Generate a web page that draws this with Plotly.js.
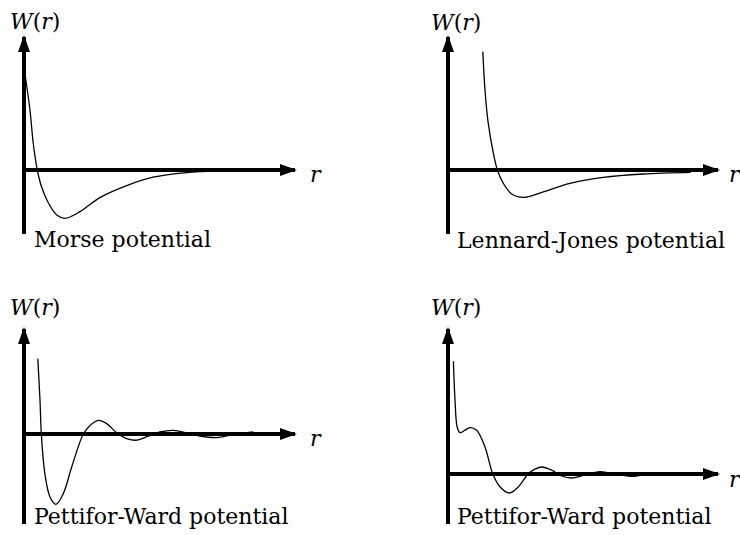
<!DOCTYPE html>
<html>
<head>
<meta charset="utf-8">
<script src="https://cdn.plot.ly/plotly-3.0.1.min.js"></script>
<style>html,body{margin:0;padding:0;background:#fff;} #chart{width:740px;height:535px;}</style>
</head>
<body>
<div id="chart"></div>
<script>
// ---- data (r and W in arbitrary units) ----
const morseR = [0.04, 0.22, 0.34, 0.49, 0.65, 0.90, 1.21, 1.51, 2.07, 2.80, 3.79, 4.76, 6.00, 7.23, 8.59];
const morseW = [4.75, 3.00, 1.35, 0.00, -0.85, -1.65, -2.25, -2.42, -2.08, -1.38, -0.78, -0.36, -0.13, -0.04, -0.01];

const ljR = [1.29, 1.37, 1.49, 1.68, 1.83, 2.05, 2.36, 2.79, 3.53, 4.52, 5.75, 7.23, 8.99];
const ljW = [5.92, 4.00, 2.34, 0.84, 0.00, -0.67, -1.20, -1.37, -1.09, -0.67, -0.37, -0.20, -0.12];

const pw1R = [0.51, 0.59, 0.64, 0.77, 0.96, 1.18, 1.45, 1.76, 2.19, 2.44, 2.74, 3.05, 3.42, 3.79, 4.16, 4.59, 5.02, 5.51, 6.00, 6.49, 7.11, 7.72, 8.46];
const pw1W = [3.77, 1.70, 0.00, -1.98, -3.15, -3.52, -2.98, -1.65, 0.00, 0.43, 0.68, 0.52, 0.06, -0.23, -0.31, -0.11, 0.10, 0.18, 0.06, -0.10, -0.18, -0.03, 0.10];

const pw2R = [0.20, 0.26, 0.34, 0.44, 0.63, 0.81, 1.06, 1.37, 1.66, 1.93, 2.27, 2.60, 2.97, 3.22, 3.47, 3.84, 4.21, 4.58, 5.01, 5.63, 6.25, 6.86, 7.11];
const pw2W = [5.64, 3.69, 2.35, 2.07, 2.19, 2.32, 2.19, 1.35, 0.00, -0.65, -0.95, -0.65, 0.00, 0.24, 0.35, 0.19, -0.10, -0.20, -0.07, 0.12, -0.02, -0.12, -0.07];

const titles = ["Morse potential", "Lennard-Jones potential", "Pettifor-Ward potential", "Pettifor-Ward potential"];
const yLabel = "<i>W</i>(<i>r</i>)";
const xLabel = "<i>r</i>";

// ---- layout geometry (pixels) ----
const PW = 740, PH = 535;
const panels = [
  {r: morseR, w: morseW, ox: 24,  oy: 170, sx: 27.1, sy: 20, xEnd: 10, yTop: 6.65, yBot: -3.2,
   yl: [9, 21], xl: [309, 174], tl: [33, 239]},
  {r: ljR, w: ljW, ox: 448, oy: 170, sx: 27.0, sy: 20, xEnd: 10, yTop: 6.65, yBot: -3.2,
   yl: [430, 22], xl: [728, 174], tl: [456, 240]},
  {r: pw1R, w: pw1W, ox: 24,  oy: 434, sx: 27.1, sy: 20, xEnd: 10, yTop: 5.25, yBot: -4.5,
   yl: [9, 307], xl: [309, 438], tl: [33, 516]},
  {r: pw2R, w: pw2W, ox: 448, oy: 474, sx: 27.0, sy: 20, xEnd: 10, yTop: 7.25, yBot: -2.5,
   yl: [430, 307], xl: [728, 479], tl: [456, 516]}
];

const font = {family: "'DejaVu Serif', 'Liberation Serif', serif", size: 22, color: "#000"};
const traces = [], shapes = [], annotations = [];
const layout = {
  width: PW, height: PH, margin: {l: 0, r: 0, t: 0, b: 0},
  paper_bgcolor: "#fff", plot_bgcolor: "rgba(0,0,0,0)", showlegend: false,
  font: font
};

panels.forEach((p, i) => {
  const n = i + 1;
  const xa = "x" + (n === 1 ? "" : n), ya = "y" + (n === 1 ? "" : n);
  const xmin = -0.7, xmax = p.xEnd + 0.5, ymin = p.yBot - 0.3, ymax = p.yTop + 0.4;
  const axBase = {showgrid: false, zeroline: false, showticklabels: false, ticks: "", showline: false, fixedrange: true};
  layout["xaxis" + (n === 1 ? "" : n)] = Object.assign({}, axBase, {
    range: [xmin, xmax], anchor: ya,
    domain: [(p.ox + xmin * p.sx) / PW, (p.ox + xmax * p.sx) / PW]
  });
  layout["yaxis" + (n === 1 ? "" : n)] = Object.assign({}, axBase, {
    range: [ymin, ymax], anchor: xa,
    domain: [1 - (p.oy - ymin * p.sy) / PH, 1 - (p.oy - ymax * p.sy) / PH]
  });
  traces.push({x: p.r, y: p.w, xaxis: xa, yaxis: ya, type: "scatter", mode: "lines",
    line: {color: "#000", width: 1.3, shape: "spline", smoothing: 1}, hoverinfo: "skip"});
  // axes
  shapes.push({type: "line", xref: xa, yref: ya, x0: 0, x1: p.xEnd, y0: 0, y1: 0,
    line: {color: "#000", width: 4}, layer: "below"});
  shapes.push({type: "line", xref: xa, yref: ya, x0: 0, x1: 0, y0: p.yBot, y1: p.yTop,
    line: {color: "#000", width: 4}, layer: "below"});
  // arrowheads
  shapes.push({type: "path", xref: xa, yref: ya, xsizemode: "pixel", ysizemode: "pixel",
    xanchor: p.xEnd, yanchor: 0, path: "M2,0 L-15,6 L-15,-6 Z", fillcolor: "#000", line: {width: 0}});
  shapes.push({type: "path", xref: xa, yref: ya, xsizemode: "pixel", ysizemode: "pixel",
    xanchor: 0, yanchor: p.yTop, path: "M0,2 L-6,-15 L6,-15 Z", fillcolor: "#000", line: {width: 0}});
  // labels
  annotations.push({xref: "paper", yref: "paper", x: p.yl[0] / PW, y: 1 - p.yl[1] / PH,
    text: yLabel, showarrow: false, xanchor: "left", yanchor: "middle", font: font, borderpad: 0});
  annotations.push({xref: "paper", yref: "paper", x: p.xl[0] / PW, y: 1 - p.xl[1] / PH,
    text: xLabel, showarrow: false, xanchor: "left", yanchor: "middle", font: font, borderpad: 0});
  annotations.push({xref: "paper", yref: "paper", x: p.tl[0] / PW, y: 1 - p.tl[1] / PH,
    text: titles[i], showarrow: false, xanchor: "left", yanchor: "middle", font: font, borderpad: 0});
});
layout.shapes = shapes;
layout.annotations = annotations;

Plotly.newPlot("chart", traces, layout, {staticPlot: true, displayModeBar: false});
</script>
</body>
</html>
